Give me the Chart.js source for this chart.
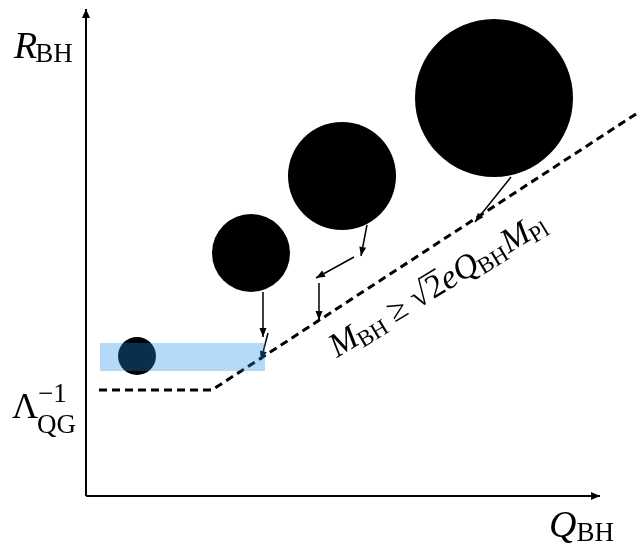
<!DOCTYPE html>
<html><head><meta charset="utf-8">
<script src="https://cdn.jsdelivr.net/npm/chart.js@4"></script>
<style>html,body{margin:0;padding:0;background:#fff}#wrap{width:644px;height:543px;position:relative}</style>
</head><body><div id="wrap"><canvas id="c"></canvas></div>
<script>
// schematic values (Q_BH, R_BH in arbitrary units)
const circleQ=[5.1,16.5,25.6,40.8];
const circleR=[14.0,24.3,32.0,39.8];
const circleSize=[19,39,54,79];
const boundQ=[1.3,12.6,55.3];
const boundR=[10.6,10.6,38.4];
const arrowFromQ=[17.7,18.2,28.1,26.8,23.3,42.5];
const arrowFromR=[20.4,16.3,27.1,23.9,21.3,31.9];
const arrowToQ=[17.7,17.5,27.5,23.0,23.3,38.9];
const arrowToR=[15.9,13.6,24.0,21.8,17.6,27.4];
const bandQ=[1.4,17.9];
const bandR=[12.5,15.3];
const axisQmax=51.4, axisRmax=48.7;

const SERIF='"Liberation Serif", "DejaVu Serif", serif';

const datasets=[];
datasets.push({type:'bubble',data:circleQ.map((q,i)=>({x:q,y:circleR[i],r:circleSize[i]})),backgroundColor:'#000',borderWidth:0,hoverRadius:0,clip:false,order:5});
datasets.push({type:'line',data:boundQ.map((q,i)=>({x:q,y:boundR[i]})),borderColor:'#000',borderWidth:3,borderDash:[8,5],pointRadius:0,fill:false,clip:false,order:4});
arrowFromQ.forEach((q,i)=>{
  datasets.push({type:'line',isArrow:true,data:[{x:q,y:arrowFromR[i]},{x:arrowToQ[i],y:arrowToR[i]}],borderColor:'#000',borderWidth:1.5,pointRadius:0,fill:false,clip:false,order:3});
});
datasets.push({type:'line',isArrow:true,big:true,data:[{x:0,y:0},{x:0,y:axisRmax}],borderColor:'#000',borderWidth:2,pointRadius:0,fill:false,clip:false,order:2});
datasets.push({type:'line',isArrow:true,big:true,data:[{x:0,y:0},{x:axisQmax,y:0}],borderColor:'#000',borderWidth:2,pointRadius:0,fill:false,clip:false,order:2});

function rich(ctx,x,y,parts){
  let cx=x;
  for(const p of parts){
    ctx.font=p.f;
    const w=ctx.measureText(p.t).width;
    ctx.fillText(p.t,cx+(p.dx||0),y+(p.dy||0));
    if(p.over){ctx.save();ctx.lineWidth=1.6;ctx.beginPath();ctx.moveTo(cx-2,y+p.over);ctx.lineTo(cx+w+1,y+p.over);ctx.stroke();ctx.restore();}
    cx+=w+(p.dx||0)+(p.adv||0);
  }
}

const deco={
  id:'deco',
  afterDatasetsDraw(chart){
    const ctx=chart.ctx, xs=chart.scales.x, ys=chart.scales.y;
    chart.data.datasets.forEach(ds=>{
      if(!ds.isArrow) return;
      const a=ds.data[0], b=ds.data[1];
      const x1=xs.getPixelForValue(a.x), y1=ys.getPixelForValue(a.y);
      const x2=xs.getPixelForValue(b.x), y2=ys.getPixelForValue(b.y);
      const ang=Math.atan2(y2-y1,x2-x1);
      const L=9, W=ds.big?4:3.5;
      ctx.save();ctx.fillStyle='#000';ctx.beginPath();
      ctx.moveTo(x2,y2);
      ctx.lineTo(x2-L*Math.cos(ang)+W*Math.sin(ang),y2-L*Math.sin(ang)-W*Math.cos(ang));
      ctx.lineTo(x2-L*Math.cos(ang)-W*Math.sin(ang),y2-L*Math.sin(ang)+W*Math.cos(ang));
      ctx.closePath();ctx.fill();ctx.restore();
    });
    const bx0=xs.getPixelForValue(bandQ[0]), bx1=xs.getPixelForValue(bandQ[1]);
    const by0=ys.getPixelForValue(bandR[1]), by1=ys.getPixelForValue(bandR[0]);
    ctx.save();ctx.fillStyle='rgba(30,140,235,0.33)';ctx.fillRect(bx0,by0,bx1-bx0,by1-by0);ctx.restore();
    ctx.save();ctx.fillStyle='#000';ctx.strokeStyle='#000';ctx.textBaseline='alphabetic';
    rich(ctx,14,58,[{t:'R',f:'italic 38px '+SERIF,adv:-2},{t:'BH',f:'27px '+SERIF,dy:4}]);
    rich(ctx,12,418,[{t:'Λ',f:'36px '+SERIF}]);
    rich(ctx,38,402,[{t:'−1',f:'27px '+SERIF}]);
    rich(ctx,37,433,[{t:'QG',f:'27px '+SERIF}]);
    rich(ctx,549,537,[{t:'Q',f:'italic 38px '+SERIF},{t:'BH',f:'27px '+SERIF,dy:4}]);
    const p0x=xs.getPixelForValue(boundQ[1]),p0y=ys.getPixelForValue(boundR[1]);
    const p1x=xs.getPixelForValue(boundQ[2]),p1y=ys.getPixelForValue(boundR[2]);
    const ang=Math.atan2(p1y-p0y,p1x-p0x)+0.03;
    ctx.translate(337,358);ctx.rotate(ang);
    const big='33px '+SERIF, it='italic 34px '+SERIF, sm='23px '+SERIF;
    rich(ctx,0,0,[{t:'M',f:it,adv:-1},{t:'BH',f:sm,dy:5},{t:' ≥ ',f:big},{t:'√',f:big,adv:1},{t:'2',f:big,over:-25},{t:'e',f:it},{t:'Q',f:it,adv:-1},{t:'BH',f:sm,dy:5,adv:1},{t:'M',f:it,adv:-1},{t:'Pl',f:sm,dy:5}]);
    ctx.restore();
  }
};

new Chart(document.getElementById('c'),{
  type:'bubble',
  data:{datasets},
  options:{
    responsive:true,maintainAspectRatio:false,animation:false,
    layout:{padding:0,autoPadding:false},
    plugins:{legend:{display:false},tooltip:{enabled:false}},
    events:[],
    scales:{
      x:{type:'linear',min:-8.6,max:55.8,display:false},
      y:{type:'linear',min:-4.7,max:49.6,display:false}
    }
  },
  plugins:[deco]
});
</script></body></html>
